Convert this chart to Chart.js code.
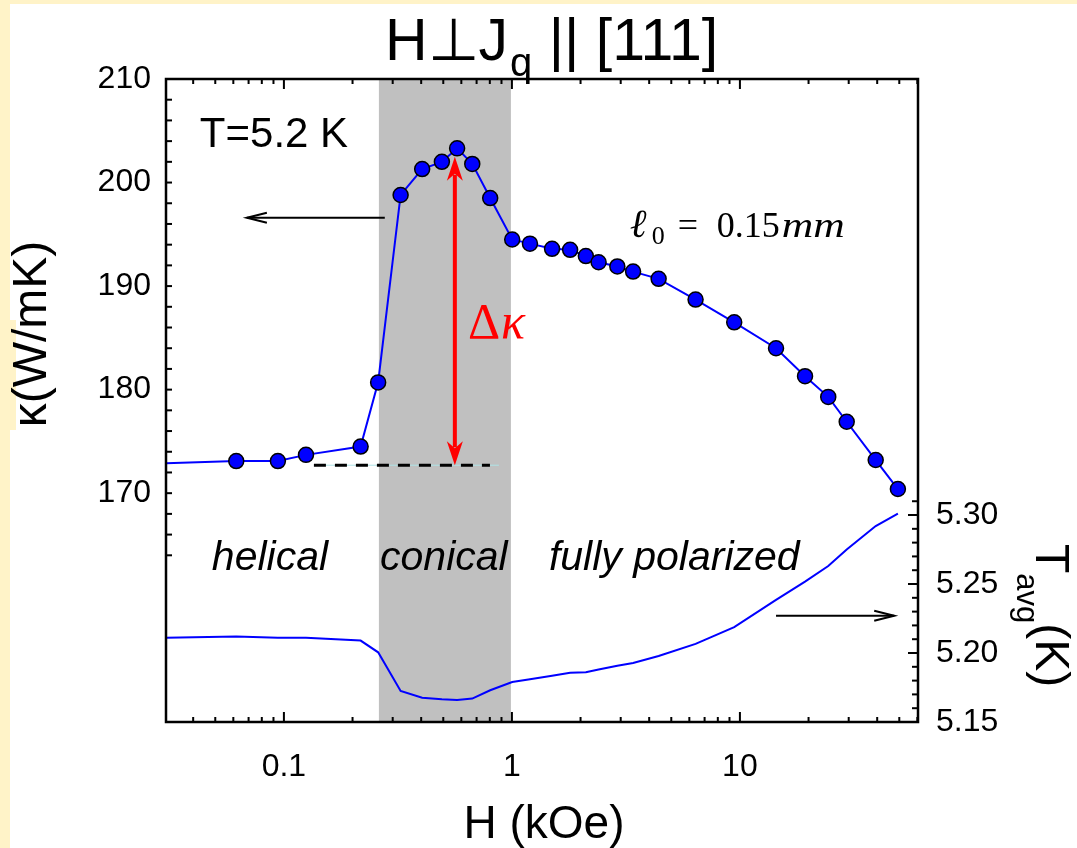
<!DOCTYPE html>
<html>
<head>
<meta charset="utf-8">
<script src="https://cdn.jsdelivr.net/npm/chart.js@4.4.1/dist/chart.umd.min.js"></script>
<style>
html, body { margin: 0; padding: 0; background: #fff; }
#wrap { width: 1077px; height: 848px; }
</style>
</head>
<body>
<div id="wrap"><canvas id="chart" width="1077" height="848"></canvas></div>
<script>
// field (kOe), thermal conductivity (W/mK), average temperature (K)
const fieldH = [0.0304, 0.0618, 0.0941, 0.125, 0.217, 0.259, 0.325, 0.404, 0.493, 0.575,
  0.670, 0.803, 1.003, 1.20, 1.50, 1.80, 2.11, 2.40, 2.90, 3.40,
  4.40, 6.39, 9.44, 14.4, 19.3, 24.4, 29.4, 39.4, 49.3];
const kappaVals = [172.9, 173.1, 173.1, 173.7, 174.5, 180.7, 198.8, 201.3, 202.0, 203.3,
  201.8, 198.5, 194.5, 194.1, 193.6, 193.5, 192.9, 192.3, 191.9, 191.4,
  190.7, 188.7, 186.5, 184.0, 181.3, 179.3, 176.9, 173.2, 170.4];
const tavgVals = [5.211, 5.212, 5.211, 5.211, 5.209, 5.2005, 5.1725, 5.1676, 5.1665, 5.166,
  5.167, 5.173, 5.179, 5.181, 5.1835, 5.1857, 5.186, 5.188, 5.1908, 5.1928,
  5.1978, 5.2066, 5.2187, 5.2385, 5.2517, 5.263, 5.275, 5.292, 5.301];

const fieldTicks = [0.1, 1, 10];
const kappaTicks = [170, 180, 190, 200, 210];
const tempTicks = [5.15, 5.20, 5.25, 5.30];

const conicalRange = [0.261, 0.99];   // shaded phase
const dkField = 0.562, dkBase = 172.7, dkTop = 202.5;

const FONT = "'Liberation Sans', Arial, sans-serif";
const SERIF = "'Liberation Serif', 'DejaVu Serif', serif";

function arrowOpen(c, x0, y0, x1, y1) {
  const ang = Math.atan2(y1 - y0, x1 - x0);
  c.beginPath(); c.moveTo(x0, y0); c.lineTo(x1, y1); c.stroke();
  c.beginPath();
  c.moveTo(x1 - 20 * Math.cos(ang) + 5 * Math.sin(ang), y1 - 20 * Math.sin(ang) - 5 * Math.cos(ang));
  c.lineTo(x1, y1);
  c.lineTo(x1 - 20 * Math.cos(ang) - 5 * Math.sin(ang), y1 - 20 * Math.sin(ang) + 5 * Math.cos(ang));
  c.stroke();
}

function redHead(c, x, y, dir) {
  // dir = -1 points up, 1 points down
  c.beginPath();
  c.moveTo(x, y);
  c.lineTo(x - 8, y - dir * 24);
  c.lineTo(x, y - dir * 17);
  c.lineTo(x + 8, y - dir * 24);
  c.closePath(); c.fill();
}

const deco = {
  id: 'deco',
  beforeDraw(chart) {
    const c = chart.ctx;
    c.save();
    c.fillStyle = '#fff3c8';
    c.fillRect(0, 0, chart.width, chart.height);
    c.fillStyle = '#ffffff';
    c.fillRect(10, 4, chart.width - 10, chart.height - 4);
    c.fillStyle = '#fff3c8';
    c.fillRect(10, 320, 6, 110);
    c.restore();
  },
  beforeDatasetsDraw(chart) {
    const c = chart.ctx, a = chart.chartArea, s = chart.scales;
    const x0 = s.x.getPixelForValue(conicalRange[0]);
    const x1 = s.x.getPixelForValue(conicalRange[1]);
    c.save();
    c.fillStyle = '#c0c0c0';
    c.fillRect(x0, a.top, x1 - x0, a.bottom - a.top);
    c.restore();
  },
  afterDatasetsDraw(chart) {
    const c = chart.ctx, s = chart.scales;
    const px = v => s.x.getPixelForValue(v);
    const pk = v => s.y.getPixelForValue(v);
    const pt = v => s.y1.getPixelForValue(v);
    c.save();

    // baseline for delta kappa
    c.strokeStyle = '#aee3e6'; c.lineWidth = 1;
    c.beginPath(); c.moveTo(px(0.1354), pk(dkBase)); c.lineTo(px(0.877), pk(dkBase)); c.stroke();
    c.strokeStyle = '#000'; c.lineWidth = 3; c.setLineDash([12, 9]);
    c.beginPath(); c.moveTo(px(0.1354), pk(dkBase)); c.lineTo(px(0.801), pk(dkBase)); c.stroke();
    c.setLineDash([]);

    // red double arrow
    const xr = px(dkField);
    c.strokeStyle = '#ff0000'; c.fillStyle = '#ff0000'; c.lineWidth = 4;
    c.beginPath(); c.moveTo(xr, pk(dkTop) + 18); c.lineTo(xr, pk(dkBase) - 18); c.stroke();
    redHead(c, xr, pk(dkTop), -1);
    redHead(c, xr, pk(dkBase), 1);

    // black arrows pointing to the axes
    c.strokeStyle = '#000'; c.lineWidth = 2;
    arrowOpen(c, px(0.277), pk(196.6), px(0.0688), pk(196.6));
    arrowOpen(c, px(14.4), pt(5.227), px(47.5), pt(5.227));

    // texts inside plot
    c.fillStyle = '#000';
    c.textAlign = 'left'; c.textBaseline = 'alphabetic';
    c.font = '42px ' + FONT;
    c.fillText('T=5.2 K', px(0.0428), pk(203.4));
    c.font = 'italic 41px ' + FONT;
    c.fillText('helical', px(0.0483), pt(5.260));
    c.fillText('conical', px(0.264), pt(5.260));
    c.fillText('fully polarized', px(1.453), pt(5.260));

    // Delta kappa
    c.fillStyle = '#ff0000';
    let x = px(0.641), y = pk(185.0);
    c.font = '50px ' + SERIF;
    c.fillText('\u0394', x, y);
    x += c.measureText('\u0394').width + 1;
    c.font = 'italic 50px ' + SERIF;
    c.fillText('\u03ba', x, y);

    // l0 = 0.15mm
    c.fillStyle = '#000';
    x = px(3.29); y = pk(194.7);
    c.font = 'italic 40px ' + SERIF;
    c.fillText('\u2113', x, y);
    c.font = '26px ' + SERIF;
    c.fillText('0', x + 22, y + 7);
    c.font = '36px ' + SERIF;
    c.fillText('=', x + 48, y);
    c.fillText('0.15', x + 87, y);
    c.font = 'italic 36px ' + SERIF;
    const mw = c.measureText('mm').width;
    c.save(); c.translate(x + 152, y); c.scale(63 / mw, 1); c.fillText('mm', 0, 0); c.restore();

    c.restore();
  },
  afterDraw(chart) {
    const c = chart.ctx, a = chart.chartArea, s = chart.scales;
    c.save();
    c.strokeStyle = '#000';
    c.lineWidth = 2;
    // x ticks, bottom and top, pointing inward
    for (const d of [0.01, 0.1, 1, 10]) {
      for (let m = 1; m <= 9; m++) {
        const v = m * d;
        if (v < s.x.min || v > s.x.max) continue;
        const x = s.x.getPixelForValue(v);
        const len = m === 1 ? 10 : 5;
        c.beginPath();
        c.moveTo(x, a.bottom); c.lineTo(x, a.bottom - len);
        c.moveTo(x, a.top); c.lineTo(x, a.top + len);
        c.stroke();
      }
    }
    // left kappa ticks
    for (let k = 164; k <= 208; k += 2) {
      const y = s.y.getPixelForValue(k);
      c.beginPath(); c.moveTo(a.left, y); c.lineTo(a.left + 6, y); c.stroke();
    }
    // right temperature ticks
    for (let i = 0; i <= 16; i++) {
      const y = s.y1.getPixelForValue(5.15 + i * 0.01);
      const len = i % 5 === 0 ? 10 : 6;
      c.beginPath(); c.moveTo(a.right, y); c.lineTo(a.right - len, y); c.stroke();
    }
    // frame
    c.lineWidth = 2.5;
    c.strokeRect(a.left, a.top, a.right - a.left, a.bottom - a.top);

    // title
    c.fillStyle = '#000';
    c.textBaseline = 'alphabetic'; c.textAlign = 'left';
    let x = 385;
    c.font = '59px ' + FONT;
    c.fillText('H\u22a5J', x, 60);
    x += c.measureText('H\u22a5J').width;
    c.font = '40px ' + FONT;
    c.fillText('q', x + 2, 76);
    x += c.measureText('q').width + 2;
    c.font = '59px ' + FONT;
    c.fillText(' || [111]', x, 60);

    // x axis title
    c.textAlign = 'center';
    c.font = '46px ' + FONT;
    c.fillText('H (kOe)', 544, 838);

    // left axis title
    c.save();
    c.translate(46, 334); c.rotate(-Math.PI / 2);
    c.font = '48px ' + FONT;
    c.fillText('\u03ba(W/mK)', 0, 0);
    c.restore();

    // right axis title
    c.save();
    c.translate(1036, 544); c.rotate(Math.PI / 2);
    c.textAlign = 'left';
    c.font = '48px ' + FONT;
    c.fillText('T', 0, 0);
    let w = c.measureText('T').width;
    c.font = '31px ' + FONT;
    c.fillText('avg', w, 19);
    w += c.measureText('avg').width;
    c.font = '48px ' + FONT;
    c.fillText('(K)', w, 0);
    c.restore();

    c.restore();
  }
};

const tickFont = { family: FONT, size: 32 };

new Chart(document.getElementById('chart'), {
  type: 'line',
  data: {
    datasets: [
      {
        label: 'kappa',
        data: fieldH.map((h, i) => ({ x: h, y: kappaVals[i] })),
        yAxisID: 'y',
        borderColor: '#0000ff',
        borderWidth: 2,
        pointRadius: ctx => ctx.dataIndex === 0 ? 0 : 7.5,
        pointBackgroundColor: '#0000ff',
        pointBorderColor: '#000',
        pointBorderWidth: 1.5,
        tension: 0
      },
      {
        label: 'Tavg',
        data: fieldH.map((h, i) => ({ x: h, y: tavgVals[i] })),
        yAxisID: 'y1',
        borderColor: '#0000ff',
        borderWidth: 2,
        pointRadius: 0,
        tension: 0
      }
    ]
  },
  options: {
    responsive: false,
    devicePixelRatio: 1,
    animation: false,
    layout: { padding: { top: 79, left: 0, right: 0, bottom: 0 } },
    plugins: { legend: { display: false }, tooltip: { enabled: false } },
    scales: {
      x: {
        type: 'logarithmic',
        min: 0.0304, max: 60.4,
        grid: { display: false, drawTicks: false },
        border: { display: false },
        afterBuildTicks: sc => { sc.ticks = fieldTicks.map(v => ({ value: v })); },
        afterFit: sc => { sc.height = 126; },
        ticks: { color: '#000', font: tickFont, padding: 26, maxRotation: 0, autoSkip: false,
          callback: v => String(v) }
      },
      y: {
        position: 'left',
        min: 147.9, max: 210,
        grid: { display: false, drawTicks: false },
        border: { display: false },
        afterBuildTicks: sc => { sc.ticks = kappaTicks.map(v => ({ value: v })); },
        afterFit: sc => { sc.width = 166; },
        ticks: { color: '#000', font: tickFont, padding: 15, callback: v => String(v) }
      },
      y1: {
        position: 'right',
        min: 5.15, max: 5.616,
        grid: { display: false, drawTicks: false },
        border: { display: false },
        afterBuildTicks: sc => { sc.ticks = tempTicks.map(v => ({ value: v })); },
        afterFit: sc => { sc.width = 159; },
        ticks: { color: '#000', font: tickFont, padding: 18, callback: v => v.toFixed(2) }
      }
    }
  },
  plugins: [deco]
});
</script>
</body>
</html>
